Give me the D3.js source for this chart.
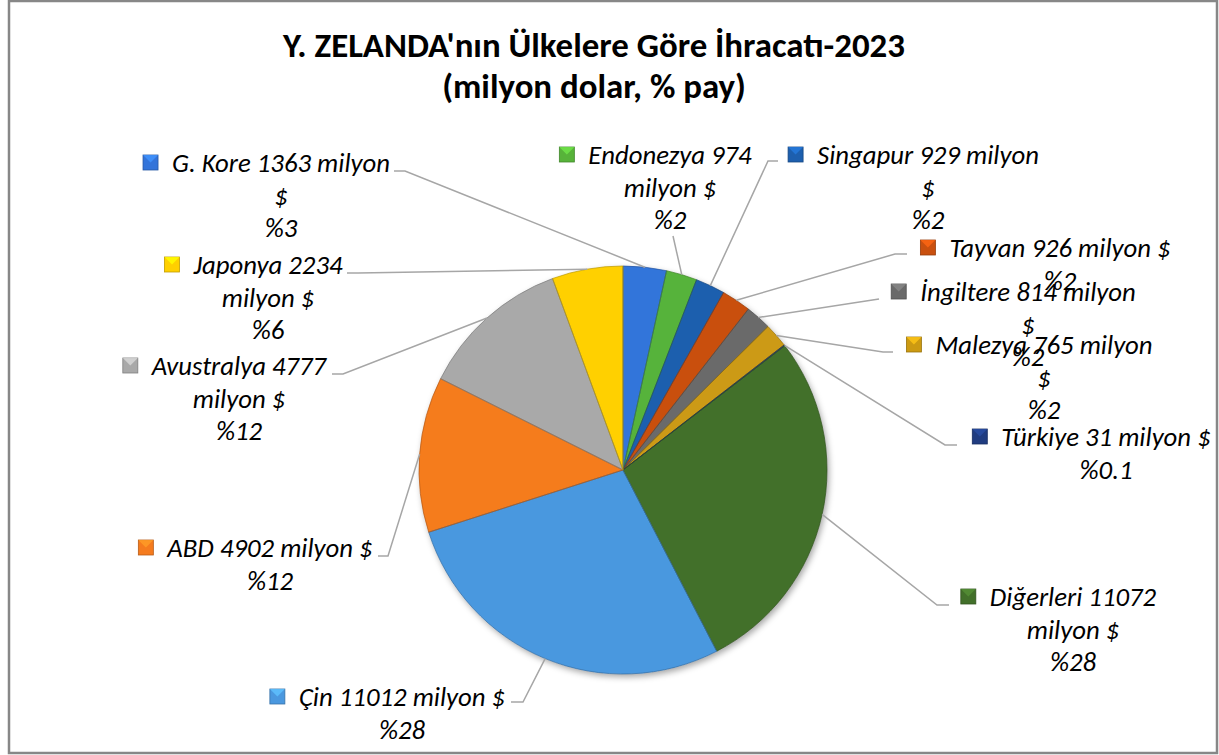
<!DOCTYPE html>
<html>
<head>
<meta charset="utf-8">
<script src="https://cdn.jsdelivr.net/npm/d3@7"></script>
<style>
  html, body { margin: 0; padding: 0; background: #fff; }
  svg { display: block; }
  text { font-family: Carlito, Calibri, Lato, sans-serif; fill: #000; }
</style>
</head>
<body>
<svg id="chart" width="1219" height="755"></svg>
<script>
// chart data
var countries = ["G. Kore", "Endonezya", "Singapur", "Tayvan", "İngiltere", "Malezya",
                 "Türkiye", "Diğerleri", "Çin", "ABD", "Avustralya", "Japonya"];
var values = [1363, 974, 929, 926, 814, 765, 31, 11072, 11012, 4902, 4777, 2234];
var shares = ["%3", "%2", "%2", "%2", "%2", "%2", "%0.1", "%28", "%28", "%12", "%12", "%6"];
var colors = ["#3374DA", "#57B33A", "#1D5FAE", "#C9500F", "#6A6A6A", "#CC9A12",
              "#203C80", "#42702A", "#4A98DF", "#F57B1E", "#A9A9A9", "#FFD000"];
var titleLines = ["Y. ZELANDA'nın Ülkelere Göre İhracatı-2023", "(milyon dolar, % pay)"];

// where each data label sits (centre of text, first line), how many words on line 1,
// and the points the leader line starts from
var labelLayout = [
    { cx: 281,  cy: 163, words: 4, lead: [[394, 171], [405, 171]] },
    { cx: 670,  cy: 155, words: 2, lead: [[673, 236]] },
    { cx: 928,  cy: 155, words: 3, lead: [[778, 161], [768, 161]] },
    { cx: 1060, cy: 248, words: 4, lead: [[907, 254], [895, 254]] },
    { cx: 1028, cy: 292, words: 3, lead: [[879, 299]] },
    { cx: 1044, cy: 345, words: 3, lead: [[893, 352], [883, 352]] },
    { cx: 1106, cy: 437, words: 4, lead: [[957, 445], [945, 445]] },
    { cx: 1073, cy: 597, words: 2, lead: [[949, 605], [937, 605]] },
    { cx: 402,  cy: 697, words: 4, lead: [[511, 702], [523, 702]] },
    { cx: 270,  cy: 548, words: 4, lead: [[378, 556], [388, 556]] },
    { cx: 239,  cy: 366, words: 2, lead: [[332, 374], [343, 374]] },
    { cx: 268,  cy: 265, words: 2, lead: [[347, 273], [358, 273]] }
];

var W = 1219, H = 755;
var cx = 623, cy = 470, radius = 204;
var lineGap = 32.5;

var svg = d3.select('#chart');
var defs = svg.append('defs');

// frame
svg.append('rect')
    .attr('x', 9).attr('y', 1)
    .attr('width', 1208).attr('height', 752)
    .attr('fill', '#fff')
    .attr('stroke', '#878787')
    .attr('stroke-width', 2.5);

// helper: font size so that a string gets a given width
function fitSize(str, weight, style, targetWidth) {
    var t = svg.append('text')
        .style('font-size', '100px')
        .style('font-weight', weight)
        .style('font-style', style)
        .text(str);
    var w = t.node().getComputedTextLength();
    t.remove();
    return 100 * targetWidth / w;
}

// title
var titleSize = fitSize(titleLines[0], 'bold', 'normal', 622);
svg.append('g').selectAll('text')
    .data(titleLines)
    .enter()
    .append('text')
    .attr('x', 594)
    .attr('y', function (d, i) { return 57 + i * 41; })
    .attr('text-anchor', 'middle')
    .style('font-weight', 'bold')
    .style('font-size', titleSize + 'px')
    .text(function (d) { return d; });

// pie
var pie = d3.pie().sort(null).value(function (d) { return d.value; });
var arcs = pie(countries.map(function (c, i) {
    return { name: c, value: values[i], share: shares[i], color: colors[i], layout: labelLayout[i] };
}));

var arc = d3.arc().innerRadius(0).outerRadius(radius);
var rimArc = d3.arc().innerRadius(radius).outerRadius(radius);

var shadow = defs.append('filter').attr('id', 'shadow')
    .attr('x', '-20%').attr('y', '-20%').attr('width', '140%').attr('height', '140%');
shadow.append('feDropShadow')
    .attr('dx', 2).attr('dy', 3).attr('stdDeviation', 3)
    .attr('flood-color', '#000').attr('flood-opacity', 0.35);

arcs.forEach(function (d, i) {
    defs.append('clipPath').attr('id', 'clip' + i)
        .append('path').attr('d', arc(d)).attr('transform', 'translate(' + cx + ',' + cy + ')');
});

var pieG = svg.append('g').attr('transform', 'translate(' + cx + ',' + cy + ')');

pieG.append('g').attr('filter', 'url(#shadow)')
    .selectAll('path')
    .data(arcs)
    .enter()
    .append('path')
    .attr('d', arc)
    .attr('fill', function (d) { return d.data.color; });

// bevel-ish highlight along edges of each slice
svg.append('g').selectAll('path')
    .data(arcs)
    .enter()
    .append('path')
    .attr('transform', 'translate(' + cx + ',' + cy + ')')
    .attr('clip-path', function (d, i) { return 'url(#clip' + i + ')'; })
    .attr('d', arc)
    .attr('fill', 'none')
    .attr('stroke', function (d) { return d3.color(d.data.color).brighter(0.7); })
    .attr('stroke-opacity', 0.75)
    .attr('stroke-width', 9);

pieG.append('g').selectAll('path')
    .data(arcs)
    .enter()
    .append('path')
    .attr('d', arc)
    .attr('fill', 'none')
    .attr('stroke', function (d) { return d3.color(d.data.color).darker(0.9); })
    .attr('stroke-opacity', 0.7)
    .attr('stroke-width', 1);

// leader lines
var leaderLine = d3.line();
svg.append('g').selectAll('path')
    .data(arcs)
    .enter()
    .append('path')
    .attr('d', function (d) {
        var p = rimArc.centroid(d);
        var pts = d.data.layout.lead.slice();
        pts.push([cx + p[0], cy + p[1]]);
        return leaderLine(pts);
    })
    .attr('fill', 'none')
    .attr('stroke', '#A6A6A6')
    .attr('stroke-width', 1.5);

// data labels
var labelSize = fitSize('G. Kore 1363 milyon', 'normal', 'italic', 218);

var labels = svg.append('g').selectAll('g')
    .data(arcs)
    .enter()
    .append('g');

labels.each(function (d) {
    var g = d3.select(this);
    var L = d.data.layout;
    var words = (d.data.name + ' ' + d.data.value + ' milyon $').split(' ');
    var lines = [words.slice(0, L.words).join(' ')];
    if (words.length > L.words) lines.push(words.slice(L.words).join(' '));
    lines.push(d.data.share);

    var texts = g.selectAll('text')
        .data(lines)
        .enter()
        .append('text')
        .attr('x', L.cx)
        .attr('y', function (s, i) { return L.cy + i * lineGap; })
        .attr('dy', '0.35em')
        .attr('text-anchor', 'middle')
        .style('font-style', 'italic')
        .style('font-size', labelSize + 'px')
        .text(function (s) { return s; });

    // legend key square in front of first line
    var w1 = texts.node().getComputedTextLength();
    var kx = L.cx - w1 / 2 - 29, ky = L.cy - 8;
    var base = d3.color(d.data.color);
    g.append('rect')
        .attr('x', kx).attr('y', ky)
        .attr('width', 15).attr('height', 15)
        .attr('fill', base)
        .attr('stroke', base.darker(0.8))
        .attr('stroke-width', 0.8);
    g.append('path')
        .attr('d', 'M' + kx + ',' + ky + 'h15l-7.5,7.5z')
        .attr('fill', base.brighter(0.7))
        .attr('opacity', 0.8);
});
</script>
</body>
</html>
